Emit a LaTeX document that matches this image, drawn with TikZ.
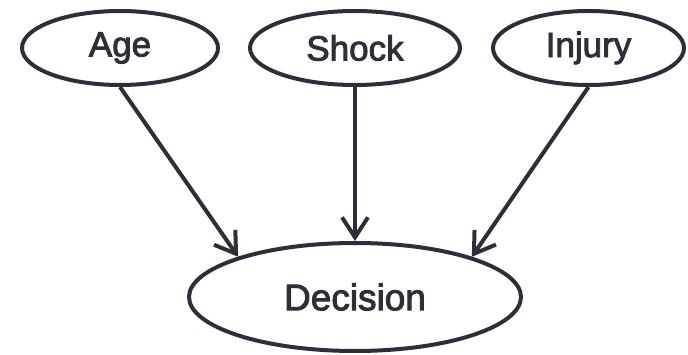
\documentclass[tikz,border=0pt]{standalone}
\usepackage{fontspec}
\setmainfont{Liberation Sans}
\newfontfamily\labelfont[FakeBold=2.5]{Liberation Sans}
\usetikzlibrary{shapes.geometric,arrows.meta}
\definecolor{ink}{RGB}{46,46,58}
\begin{document}
\begin{tikzpicture}[x=1pt,y=-1pt,
  var/.style={draw=ink, line width=4pt, ellipse, inner sep=0pt, text=ink,
              font=\labelfont\fontsize{35}{35}\selectfont},
  link/.style={draw=ink, line width=4pt,
               -{Straight Barb[length=20pt,width=26pt,line width=4pt]}}]
  \useasboundingbox (0,0) rectangle (688,355);
  % parent variables
  \node[var, minimum width=196pt, minimum height=74pt] (age) at (120,48) {Age};
  \node[var, minimum width=210pt, minimum height=74pt] (shock) at (355,48) {Shock};
  \node[var, minimum width=191pt, minimum height=74pt] (injury) at (588.5,48) {Injury};
  % child variable
  \node[var, minimum width=332pt, minimum height=108pt,
        font=\labelfont\fontsize{37}{37}\selectfont] (dec) at (355,297) {Decision};
  % influences
  \draw[link] (age.south) -- (dec.161);
  \draw[link] (shock.south) -- (dec.north);
  \draw[link] (injury.south) -- (dec.19);
\end{tikzpicture}
\end{document}
